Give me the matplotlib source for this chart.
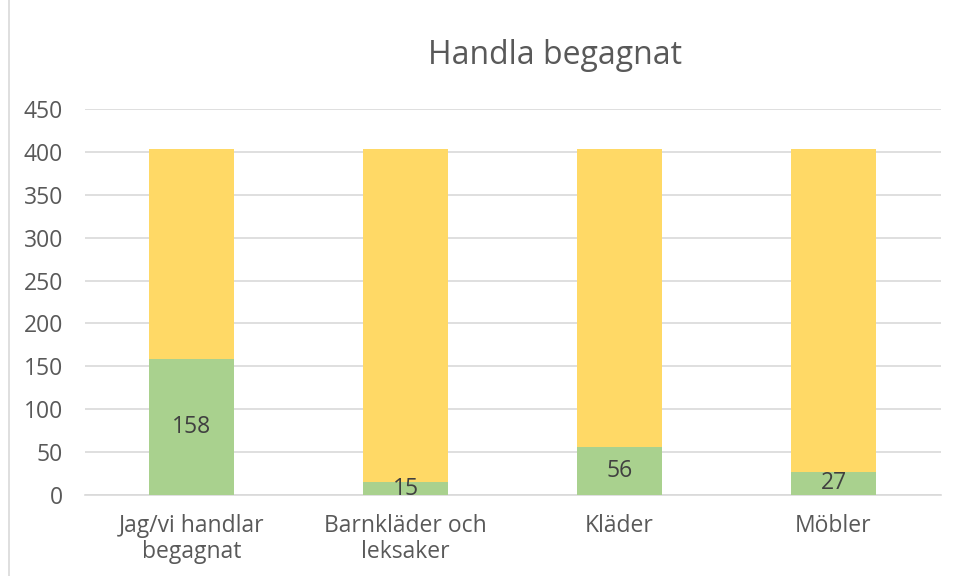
import matplotlib.pyplot as plt
import numpy as np
from matplotlib.lines import Line2D

plt.rcParams['font.family'] = ['Open Sans', 'DejaVu Sans']

# data
categories = ['Jag/vi handlar\nbegagnat', 'Barnkläder och\nleksaker', 'Kläder', 'Möbler']
green_vals = [158, 15, 56, 27]
yellow_vals = [245, 388, 347, 376]
yticks = [0, 50, 100, 150, 200, 250, 300, 350, 400, 450]

W, H = 957, 576
fig = plt.figure(figsize=(W / 100, H / 100), dpi=100)
ax = fig.add_axes([84.5 / W, 81 / H, 856 / W, 386 / H])

x = np.arange(len(categories))
bars_g = ax.bar(x, green_vals, width=0.4, color='#A9D18E', zorder=3)
ax.bar(x, yellow_vals, width=0.4, bottom=green_vals, color='#FFD966', zorder=3)
ax.bar_label(bars_g, labels=[str(v) for v in green_vals], label_type='center',
             fontsize=16.5, color='#404040', zorder=4)

ax.set_xlim(-0.5, len(categories) - 0.5)
ax.set_ylim(0, 450)
ax.set_yticks(yticks)
ax.set_xticks(x)
ax.set_xticklabels(categories, fontsize=16.5, color='#595959', linespacing=1.1)
ax.tick_params(axis='y', length=0, pad=15.5, labelsize=16.5, labelcolor='#595959')
ax.tick_params(axis='x', length=0, pad=14)
ax.grid(axis='y', color='#D9D9D9', linewidth=1.2, zorder=0)
for s in ['top', 'right', 'left']:
    ax.spines[s].set_visible(False)
ax.spines['bottom'].set_color('#D9D9D9')
ax.spines['bottom'].set_linewidth(1.2)

fig.text(555 / W, 1 - 55 / H, 'Handla begagnat', ha='center', va='center',
         fontsize=23, color='#595959')

# chart area border
fig.add_artist(Line2D([8.5 / W, 8.5 / W], [0, 1], color='#D9D9D9', linewidth=1.2,
                      transform=fig.transFigure))

fig.savefig('out.png', dpi=100)
